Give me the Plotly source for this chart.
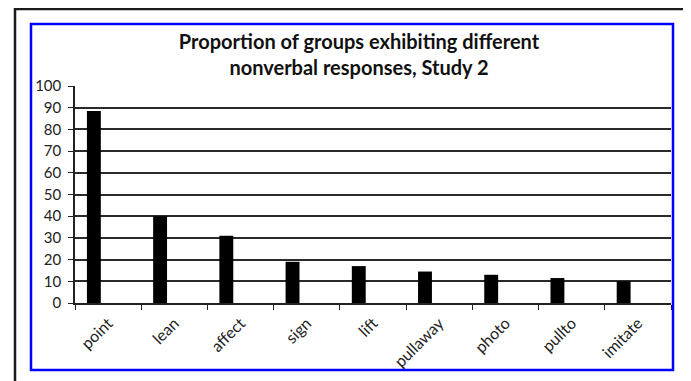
import plotly.graph_objects as go

categories = ["point", "lean", "affect", "sign", "lift", "pullaway", "photo", "pullto", "imitate"]
values = [88.5, 40, 31, 19, 17, 14.5, 13, 11.5, 10]
y_ticks = [0, 10, 20, 30, 40, 50, 60, 70, 80, 90, 100]

OFF = 8  # page body margin
W, H = 691 - OFF, 381 - OFF
L, R, T, B = 75 - OFF, 20, 86 - OFF, 78
pw, ph = W - L - R, H - T - B

def px(x):
    return (x - OFF - L) / pw

def py(y):
    return (H - B - (y - OFF)) / ph

font = "Lato, 'Open Sans', sans-serif"

fig = go.Figure(go.Bar(
    x=categories, y=values, marker=dict(color="black", line=dict(width=0)),
    width=0.21, offset=-0.32,
))

fig.update_layout(
    width=W, height=H,
    margin=dict(l=L, r=R, t=T, b=B),
    paper_bgcolor="white", plot_bgcolor="white",
    showlegend=False,
    font=dict(family=font, size=14, color="#222"),
    title=dict(
        text="<b>Proportion of groups exhibiting different<br>nonverbal responses, Study 2</b>",
        x=px(359), xref="paper", xanchor="center",
        y=1 - 41 / H, yref="container", yanchor="top",
        font=dict(size=20, color="#111", family=font),
    ),
    xaxis=dict(
        tickangle=-45, ticks="outside", tickson="boundaries", ticklen=5,
        tickcolor="#222", showline=True, linecolor="#222", linewidth=1.5,
        showgrid=False, tickfont=dict(size=16), ticklabelshift=0,
        ticklabelstandoff=3,
    ),
    yaxis=dict(
        range=[0, 100], tickvals=y_ticks, ticks="outside", ticklen=5,
        tickcolor="#222", showline=True, linecolor="#222", linewidth=1.5,
        showgrid=True, gridcolor="#2a2a2a", gridwidth=1.5, zeroline=False,
        tickfont=dict(size=15), ticklabelstandoff=4,
    ),
    shapes=[
        dict(type="rect", xref="paper", yref="paper",
             x0=px(15), x1=px(689), y0=py(400), y1=py(9),
             line=dict(color="#1a1a1a", width=2.5), layer="above"),
        dict(type="rect", xref="paper", yref="paper",
             x0=px(31), x1=px(673), y0=py(370), y1=py(24),
             line=dict(color="#0000ff", width=2.5), layer="above"),
    ],
)

fig.write_html("out.html")
